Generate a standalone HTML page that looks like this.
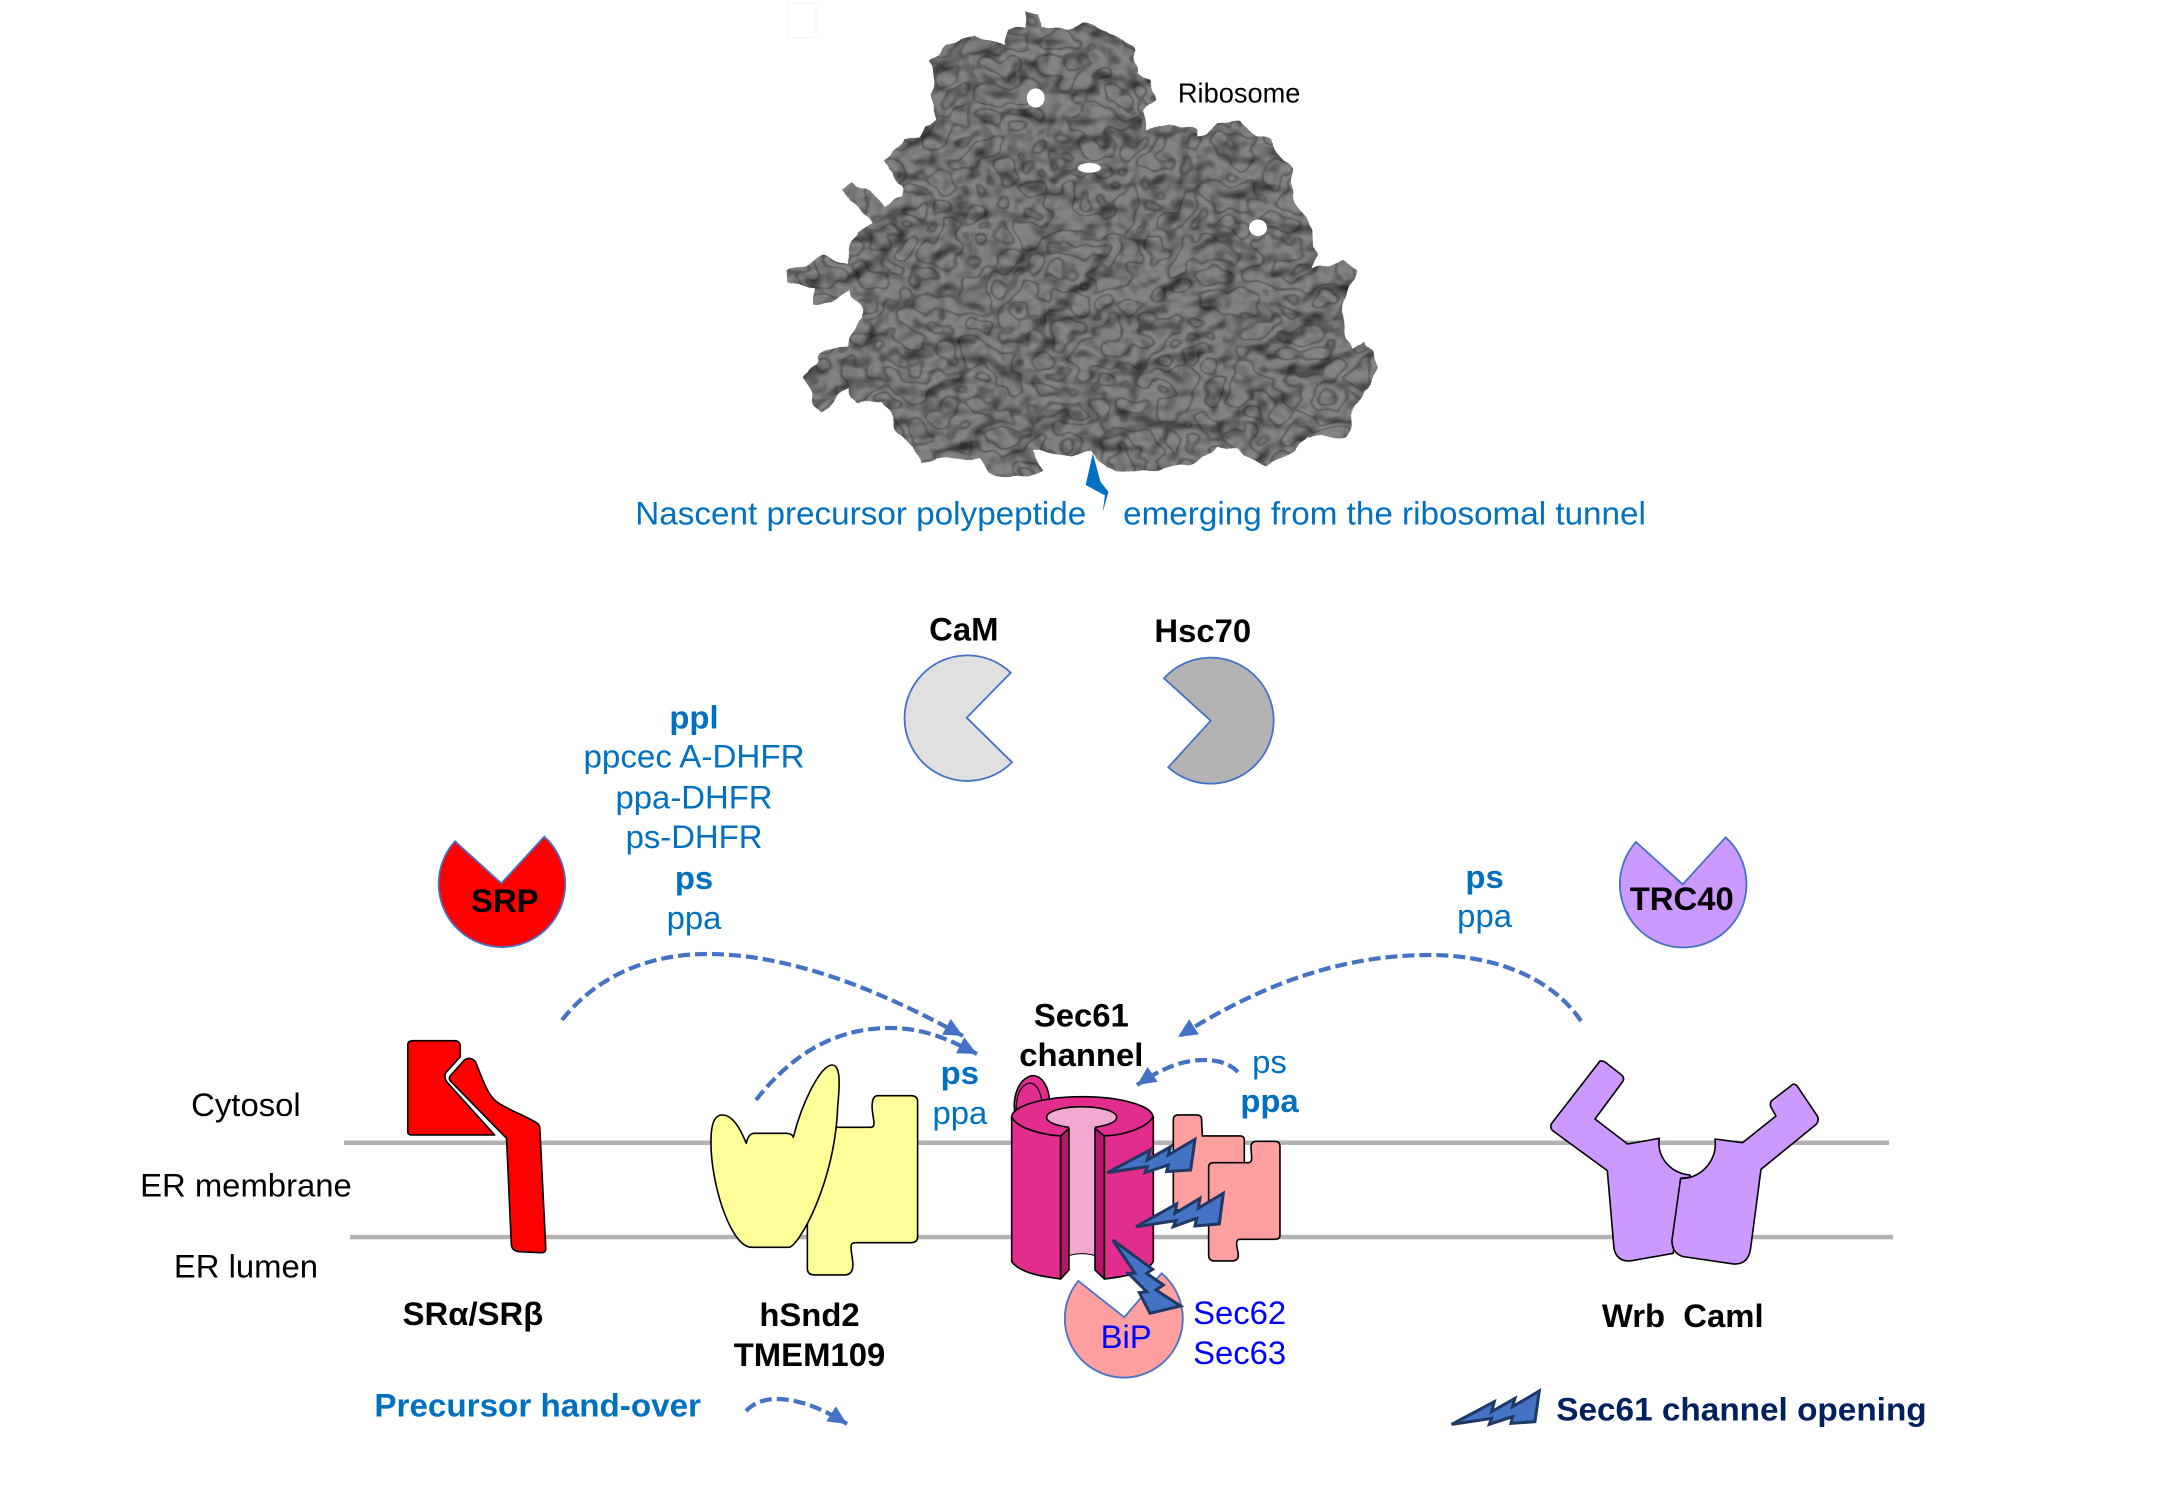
<!DOCTYPE html>
<html><head><meta charset="utf-8"><style>
html,body{margin:0;padding:0;background:#fff}
svg{display:block}
text{font-family:"Liberation Sans",sans-serif;font-size:33px}
.b{font-weight:bold}.m{text-anchor:middle}.c{fill:#0070c0}.k{fill:#000}.v{fill:#0000ff}
.s{stroke:#000;stroke-width:1.6;vector-effect:non-scaling-stroke;stroke-linejoin:round}
.d{fill:none;stroke:#4472c4;stroke-width:4.2;stroke-dasharray:12 5;marker-end:url(#ah)}
.p{stroke:#4472c4;stroke-width:1.8;vector-effect:non-scaling-stroke}
.bolt{fill:#4472c4;stroke:#1f3864;stroke-width:3;vector-effect:non-scaling-stroke}
</style></head><body>
<svg xmlns="http://www.w3.org/2000/svg" width="2167" height="1500" viewBox="0 0 2167 1500">
<defs>
<marker id="ah" markerUnits="userSpaceOnUse" markerWidth="22" markerHeight="22" refX="19" refY="10" orient="auto"><path d="M0,1 L19,10 L0,19 Z" fill="#4472c4"/></marker>
<filter id="rb" x="-6%" y="-6%" width="112%" height="112%" color-interpolation-filters="sRGB">
<feTurbulence type="fractalNoise" baseFrequency="0.015 0.013" numOctaves="2" seed="11" result="n"/>
<feDisplacementMap in="SourceGraphic" in2="n" scale="42" xChannelSelector="R" yChannelSelector="G" result="shape"/>
<feDiffuseLighting in="n" surfaceScale="30" diffuseConstant="1" lighting-color="#848484" result="lit"><feDistantLight azimuth="250" elevation="70"/></feDiffuseLighting>
<feColorMatrix in="n" type="matrix" values="1 0 0 0 0  1 0 0 0 0  1 0 0 0 0  0 0 0 0 1" result="gray"/>
<feComponentTransfer in="gray" result="lines"><feFuncR type="table" tableValues="1 1 1 1 1 1 1 .72 1 1 1 .72 1 1 1 1 1 1 1 1 1"/><feFuncG type="table" tableValues="1 1 1 1 1 1 1 .72 1 1 1 .72 1 1 1 1 1 1 1 1 1"/><feFuncB type="table" tableValues="1 1 1 1 1 1 1 .72 1 1 1 .72 1 1 1 1 1 1 1 1 1"/></feComponentTransfer>
<feBlend in="lit" in2="lines" mode="multiply" result="tex"/>
<feComposite in="tex" in2="shape" operator="in"/>
</filter>
</defs>

<rect x="788" y="3" width="28" height="35" rx="2" fill="#fff" stroke="#f3f3f3"/>

<g transform="translate(750,0) scale(.4464,.344)">
<path filter="url(#rb)" fill="#666" d="M610,30 L645,40 650,80 700,85 750,70 800,95 860,150 865,215 890,230 905,295 885,320 885,380 935,355 1000,375 1005,400 1040,355 1100,350 1125,385 1165,430 1210,490 1225,570 1250,650 1270,740 1255,780 1280,770 1330,760 1365,790 1330,870 1330,960 1350,1020 1385,1000 1408,1075 1370,1130 1370,1170 1330,1270 1240,1270 1220,1320 1150,1355 1100,1310 1040,1300 1000,1340 900,1370 800,1360 770,1320 720,1330 640,1310 660,1370 590,1385 540,1370 520,1330 420,1345 385,1355 350,1270 290,1160 240,1170 225,1120 155,1195 120,1100 150,1040 215,1000 250,920 240,890 220,840 190,880 150,880 140,840 90,820 80,790 130,770 160,750 220,770 240,680 270,640 210,555 235,530 260,550 300,600 340,570 330,500 305,460 340,400 380,395 385,360 420,345 405,290 415,240 405,170 430,130 510,100 550,125 580,130 578,85 615,75 Z"/>
<ellipse cx="640" cy="285" rx="20" ry="28" fill="#fff"/><ellipse cx="760" cy="488" rx="26" ry="14" fill="#fff"/><ellipse cx="1138" cy="662" rx="20" ry="24" fill="#fff"/>
<path d="M768,1318 L785,1400 L803,1430 L790,1490 L795,1440 L752,1410 Z" fill="#0070c0"/>
</g>

<!-- membranes -->
<rect x="344" y="1140.5" width="1545" height="4.5" fill="#b3b3b3"/>
<rect x="350" y="1234.8" width="1543" height="4.5" fill="#b3b3b3"/>

<!-- pacmen -->
<path class="p" fill="#e0e0e0" d="M1010.7,672.7 L966.7,717.7 L1012,762.3 A62.8,62.8 0 1 1 1010.7,672.7 Z"/>
<path class="p" fill="#b3b3b3" d="M1164,678.3 L1210.7,720.7 L1168.3,767.3 A63,63 0 1 0 1164,678.3 Z"/>
<path class="p" fill="#ff0000" d="M455,841.3 L501.3,883.3 L544.3,836.7 A63.3,63.3 0 1 1 455,841.3 Z"/>
<path class="p" fill="#cc99ff" d="M1636,842 L1682.7,884.3 L1725.7,837.3 A63.3,63.3 0 1 1 1636,842 Z"/>

<!-- SR + hSnd2 -->
<g transform="translate(380,1000) scale(.37,.3333)">
<path class="s" fill="#ff0000" d="M90,122 H200 Q217,122 217,140 V170 L178,218 Q172,230 180,245 L310,405 H85 Q75,405 75,395 V135 Q75,122 90,122 Z"/>
<path class="s" fill="#ff0000" d="M228,180 Q243,168 258,185 C275,230 290,285 315,305 C345,330 400,350 425,370 Q432,375 432,385 L448,745 Q448,760 435,758 L375,755 Q357,752 355,735 L342,415 L192,245 Q183,235 192,225 Z"/>
<path class="s" fill="#ffff99" d="M1345,287 H1435 Q1453,287 1453,305 V710 Q1453,728 1435,728 H1285 Q1273,728 1273,740 C1273,760 1278,775 1278,795 Q1278,825 1255,825 H1175 Q1155,825 1155,805 V500 L1230,382 H1325 Q1335,382 1335,372 C1335,355 1330,340 1330,320 Q1330,287 1345,287 Z"/>
<path class="s" fill="#ffff99" d="M990,430 C975,390 955,345 925,345 C895,345 893,400 895,450 C900,570 950,742 1005,742 H1105 C1130,742 1230,550 1237,320 C1243,250 1245,195 1222,195 C1190,195 1140,310 1117,412 Q1115,402 1100,400 H1010 Q995,402 990,430 Z"/>
</g>

<!-- Sec61 group -->
<g transform="translate(950,980) scale(.3333)">
<path class="s" fill="#ff9f9f" d="M685,405 H740 Q755,405 755,420 C755,435 757,450 757,468 H870 Q883,468 883,480 V690 H670 V420 Q670,405 685,405 Z"/>
<path class="s" fill="#ff9f9f" d="M790,548 H895 Q905,548 905,535 C905,520 903,510 903,498 Q905,484 920,484 H975 Q990,484 990,500 V765 Q990,778 975,778 H870 Q860,778 860,790 C860,805 865,815 865,825 Q865,843 845,843 H795 Q776,843 776,825 V562 Q776,548 790,548 Z"/>
<path class="s" fill="#e22d8e" d="M197,412 C185,360 200,300 245,287 C280,285 300,330 298,370 L290,420 Z"/>
<path d="M200,412 C195,360 205,320 235,310 C260,305 280,340 278,410" fill="none" stroke="#000" stroke-width="1.2" vector-effect="non-scaling-stroke"/>
<ellipse class="s" cx="397" cy="412" rx="212" ry="62" fill="#e22d8e"/>
<path class="s" fill="#e22d8e" d="M185,410 C200,445 280,465 332,468 V897 C280,890 210,880 185,845 Z"/>
<path class="s" fill="#e22d8e" d="M463,468 C520,465 590,445 610,410 V845 C590,880 520,890 463,897 Z"/>
<ellipse class="s" cx="395" cy="412" rx="105" ry="32" fill="#f2a8d0"/>
<path fill="#f2a8d0" d="M357,440 V827 Q395,815 435,827 V440 Z"/>
<path d="M357,827 Q395,815 435,827" fill="none" stroke="#000" stroke-width="1" vector-effect="non-scaling-stroke"/>
<path class="s" fill="#b5166b" d="M332,468 L357,445 V870 L332,897 Z"/>
<path class="s" fill="#b5166b" d="M435,445 L463,468 V897 L435,870 Z"/>
<path class="p" fill="#ff9f9f" d="M385,903 L523,1012 L635,880 A177,177 0 1 1 385,903 Z"/>
<path class="bolt" d="M472,578 L600,510 L592,540 L662,500 L655,525 L735,478 L722,570 L650,575 L655,555 L585,578 L592,560 Z"/>
<path class="bolt" d="M558,740 L680,672 L675,700 L750,655 L745,685 L820,640 L808,732 L735,738 L740,715 L670,740 L678,722 Z"/>
<path class="bolt" d="M488,780 L608,868 L590,880 L640,915 L618,930 L692,978 L600,1000 L568,938 L590,935 L535,880 L555,880 Z"/>
</g>
<g transform="translate(1294.3,1231.7) scale(.3333)"><path class="bolt" d="M472,578 L600,510 L592,540 L662,500 L655,525 L735,478 L722,570 L650,575 L655,555 L585,578 L592,560 Z"/></g>

<!-- Wrb / Caml -->
<g transform="translate(1520,1040) scale(.3333)">
<path class="s" fill="#cc99ff" d="M240,63 Q248,62 255,66 L305,105 Q315,115 308,125 L225,237 L323,312 L418,295 C410,350 450,400 510,405 L512,412 L482,415 L460,640 L330,663 Q290,665 282,625 L262,392 L98,272 Q88,262 95,250 Z"/>
<path class="s" fill="#cc99ff" d="M820,132 Q828,132 835,143 L892,228 Q898,240 890,252 L723,388 L692,625 Q685,675 640,672 L490,650 Q455,640 456,600 L482,415 C530,420 595,370 585,297 L668,308 L768,228 L752,200 Q748,185 760,178 Z"/>
</g>

<!-- arrows -->
<path class="d" d="M562,1020 C600,972 655,954 707,954 C790,954 880,990 963,1036"/>
<path class="d" d="M756,1100 C795,1050 840,1028 890,1028 C925,1028 950,1040 977,1054"/>
<path class="d" d="M1581,1021 C1550,975 1490,955 1430,955 C1340,955 1260,985 1178,1037"/>
<path class="d" d="M1238,1072 C1228,1062 1215,1060 1205,1060 C1185,1060 1165,1066 1137,1085"/>
<path class="d" d="M746,1411 C755,1402 765,1399 777,1399 C800,1399 825,1410 847,1424"/>

<!-- labels -->
<g transform="translate(0,-1.2) scale(.9957)">
<text x="1183" y="104" style="font-size:28px" class="k" textLength="123" lengthAdjust="spacingAndGlyphs">Ribosome</text>
<text x="638" y="528" class="c" textLength="453" lengthAdjust="spacingAndGlyphs">Nascent precursor polypeptide</text>
<text x="1128" y="528" class="c" textLength="525" lengthAdjust="spacingAndGlyphs">emerging from the ribosomal tunnel</text>
<text x="697" y="733" class="b c m">ppl</text>
<text x="697" y="772" class="c m" textLength="222" lengthAdjust="spacingAndGlyphs">ppcec A-DHFR</text>
<text x="697" y="813" class="c m">ppa-DHFR</text>
<text x="697" y="853" class="c m">ps-DHFR</text>
<text x="697" y="894" class="b c m">ps</text>
<text x="697" y="934" class="c m">ppa</text>
<text x="1491" y="893" class="b c m">ps</text>
<text x="1491" y="932" class="c m">ppa</text>
<text x="964" y="1090" class="b c m">ps</text>
<text x="964" y="1130" class="c m">ppa</text>
<text x="1275" y="1079" class="c m">ps</text>
<text x="1275" y="1118" class="b c m">ppa</text>
<text x="968" y="644.5" class="b k m">CaM</text>
<text x="1208" y="646" class="b k m">Hsc70</text>
<text x="507" y="917" class="b k m">SRP</text>
<text x="1689" y="915" class="b k m">TRC40</text>
<text x="1086" y="1032" class="b k m">Sec61</text>
<text x="1086" y="1072" class="b k m">channel</text>
<text x="247" y="1122" class="k m">Cytosol</text>
<text x="247" y="1203" class="k m">ER membrane</text>
<text x="247" y="1284" class="k m">ER lumen</text>
<text x="475" y="1332" class="b k m">SRα/SRβ</text>
<text x="813" y="1333" class="b k m">hSnd2</text>
<text x="813" y="1373" class="b k m">TMEM109</text>
<text x="1690" y="1334" class="b k m" xml:space="preserve">Wrb  Caml</text>
<text x="1245" y="1331" class="v m">Sec62</text>
<text x="1245" y="1371" class="v m">Sec63</text>
<text x="1131" y="1355" class="v m">BiP</text>
<text x="540" y="1424" class="b c m" textLength="328" lengthAdjust="spacingAndGlyphs">Precursor hand-over</text>
<text x="1749" y="1428" class="b m" fill="#002060" textLength="372" lengthAdjust="spacingAndGlyphs">Sec61 channel opening</text>
</g>
</svg>
</body></html>
